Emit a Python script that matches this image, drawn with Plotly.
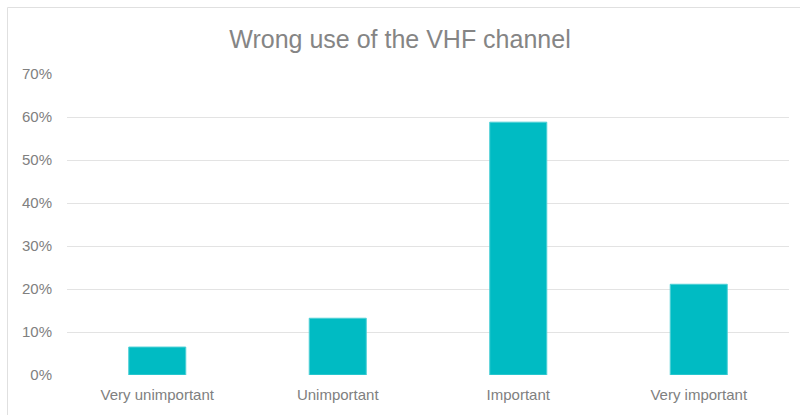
import plotly.graph_objects as go

categories = ["Very unimportant", "Unimportant", "Important", "Very important"]
shares = [0.065, 0.132, 0.588, 0.211]
title_text = "Wrong use of the VHF channel"

W, H = 800, 415
ml, mr, mt, mb = 67, 11, 74, 40

fig = go.Figure(
    go.Bar(
        x=categories,
        y=shares,
        marker=dict(color="#00BBC3", line=dict(color="#4FD0D6", width=1)),
        hoverinfo="x+y",
    )
)

pw = W - ml - mr
ph = H - mt - mb

fig.update_layout(
    width=W,
    height=H,
    margin=dict(l=ml, r=mr, t=mt, b=mb),
    paper_bgcolor="white",
    plot_bgcolor="white",
    bargap=0.684,
    showlegend=False,
    font=dict(family="Liberation Sans, Arial, sans-serif", color="#808080", size=15),
    title=dict(
        text=title_text,
        x=0.5,
        xanchor="center",
        y=1 - 39 / H,
        yanchor="middle",
        font=dict(size=25, color="#858585", family="Liberation Sans, Arial, sans-serif"),
    ),
    xaxis=dict(
        showgrid=False,
        showline=False,
        ticks="",
        ticklabelstandoff=9,
        tickfont=dict(size=15, color="#808080"),
    ),
    yaxis=dict(
        range=[0, 0.7],
        dtick=0.1,
        tickformat=".0%",
        showgrid=True,
        gridcolor="#E3E3E3",
        gridwidth=1,
        zeroline=False,
        showline=False,
        ticks="",
        ticklabelstandoff=14,
        tickfont=dict(size=15, color="#808080"),
    ),
    shapes=[
        dict(
            type="rect",
            xref="paper",
            yref="paper",
            x0=(7.5 - ml) / pw,
            x1=(805 - ml) / pw,
            y0=-(420 - (H - mb)) / ph,
            y1=1 + (mt - 7.5) / ph,
            line=dict(color="#E0E0E0", width=1),
            fillcolor="rgba(0,0,0,0)",
            layer="below",
        )
    ],
)

fig.write_html(
    "out.html",
    config={"displayModeBar": False},
    post_script="document.body.style.margin='0';document.body.style.padding='0';",
)
